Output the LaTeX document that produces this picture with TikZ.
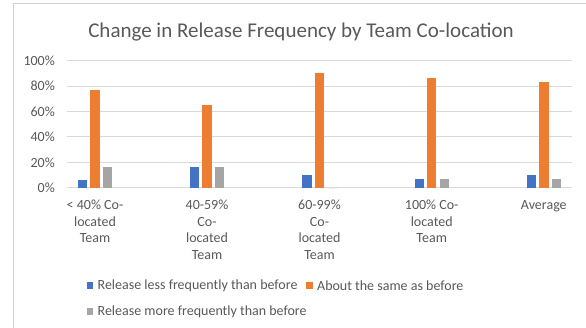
\documentclass[tikz,border=0pt]{standalone}
\usepackage{fontspec}
\setmainfont{Carlito}
\usepackage{xcolor}
\usepackage{tikz}
\usetikzlibrary{positioning, calc}
\definecolor{xlblue}{HTML}{4472C4}
\definecolor{xlorange}{HTML}{ED7D31}
\definecolor{xlgray}{HTML}{A5A5A5}
\definecolor{xltext}{HTML}{595959}
\definecolor{xlgrid}{HTML}{D9D9D9}
\definecolor{xlframe}{HTML}{D0D0D0}

\begin{document}
\begin{tikzpicture}[x=1pt, y=-1pt,
  ticklabel/.style={anchor=east, inner sep=0pt, text=xltext, font=\fontsize{14}{16}\selectfont},
  catlabel/.style={anchor=north, align=center, inner sep=0pt, text=xltext, font=\fontsize{14}{16.5}\selectfont},
  legtext/.style={anchor=west, inner sep=0pt, text=xltext, font=\fontsize{14}{16}\selectfont},
  legkey/.style={minimum size=6.5pt, inner sep=0pt}]
\useasboundingbox[fill=white] (0,0) rectangle (586,327);

% chart frame
\draw[xlframe, line width=1.5pt] (13.5,340) -- (13.5,3.5) -- (600,3.5);

% title
\node[text=xltext, font=\fontsize{21}{24}\selectfont] (title) at (301,32) {Change in Release Frequency by Team Co-location};

% gridlines and axis labels
\foreach \v [count=\i] in {0,20,40,60,80,100} {
  \draw[xlgrid, line width=1pt] (66.7,{187.7-1.27*\v}) -- (572,{187.7-1.27*\v});
  \node[ticklabel] (tick\i) at (55,{187.7-1.27*\v}) {\v\%};
}

% bars: less / same / more
\foreach \x/\a/\b/\c in {95/6/77/16, 207/16.3/65/16.3, 319.5/10/90.3/0, 431.7/7/86/7, 543.8/10/83/7} {
  \fill[xlblue] (\x-17.2,187.7) rectangle (\x-7.8,{187.7-1.27*\a});
  \fill[xlorange] (\x-4.7,187.7) rectangle (\x+4.7,{187.7-1.27*\b});
  \fill[xlgray] (\x+7.8,187.7) rectangle (\x+17.2,{187.7-1.27*\c});
}

% category labels
\node[catlabel] (cat1) at (95,200) {< 40\% Co-\\located\\Team};
\node[catlabel] (cat2) at (207,200) {40-59\%\\Co-\\located\\Team};
\node[catlabel] (cat3) at (319.5,200) {60-99\%\\Co-\\located\\Team};
\node[catlabel] (cat4) at (431.7,200) {100\% Co-\\located\\Team};
\node[catlabel] (cat5) at (543.8,200) {Average};

% legend
\node[legkey, fill=xlblue] (key1) at (90,285.7) {};
\node[legtext, right=4pt of key1] (leg1) {Release less frequently than before};
\node[legkey, fill=xlorange] (key2) at (309.5,285.7) {};
\node[legtext, right=4pt of key2] (leg2) {About the same as before};
\node[legkey, fill=xlgray] (key3) at (90,311.5) {};
\node[legtext, right=4pt of key3] (leg3) {Release more frequently than before};
\end{tikzpicture}
\end{document}
